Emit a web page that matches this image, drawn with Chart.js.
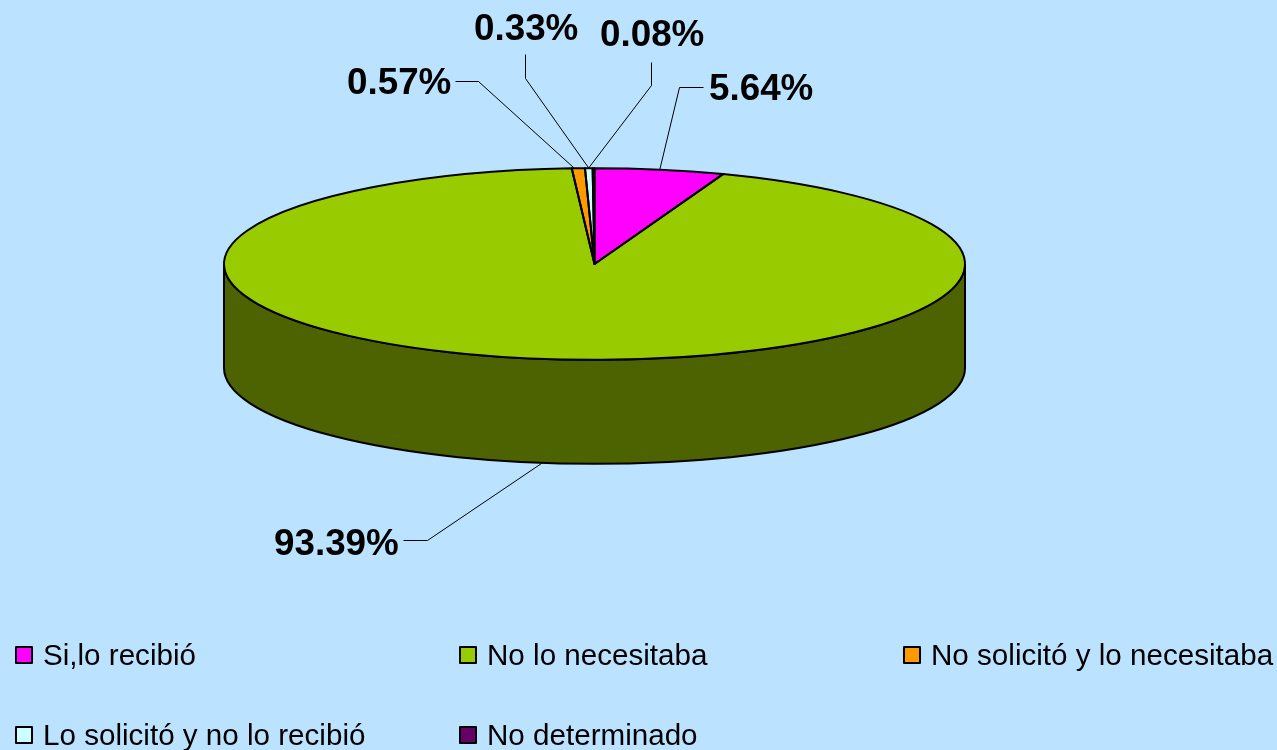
<!DOCTYPE html>
<html>
<head>
<meta charset="utf-8">
<style>html,body{margin:0;padding:0;background:#BBE3FF;overflow:hidden}canvas{display:block}</style>
<script src="https://cdn.jsdelivr.net/npm/chart.js@4/dist/chart.umd.min.js"></script>
</head>
<body>
<canvas id="c" width="1277" height="750"></canvas>
<script>
const categories = ['Si,lo recibió','No lo necesitaba','No solicitó y lo necesitaba','Lo solicitó y no lo recibió','No determinado'];
const values = [5.64,93.39,0.57,0.33,0.08];
const topColors = ['#FF00FF','#99CC00','#FF9900','#CCFFFF','#660066'];
const sideColors = ['#800080','#4D6200','#804C00','#668080','#330033'];
const valueLabels = ['5.64%','93.39%','0.57%','0.33%','0.08%'];

// layout of the squashed 3D look and of annotations
const TILT = 96/371, CY = 264, DEPTH = 104;
const labelLayout = [
  {x:709,y:100,path:[[703,87],[679,87]],wall:false,dx:0},
  {x:274,y:555,path:[[403,540],[427,540]],wall:true,dx:2},
  {x:347,y:94,path:[[455,81],[478,81]],wall:false,dx:-4},
  {x:474,y:40,path:[[525,54],[525,78]],wall:false,dx:0},
  {x:600,y:46,path:[[651,62],[651,85]],wall:false,dx:-5}
];
const legendCols = [15,459,903], legendRows = [664,744];

function arcs(chart){ return chart.getDatasetMeta(0).data; }
const pie3d = {
  id:'pie3d',
  beforeDatasetsDraw(chart){
    const ctx = chart.ctx;
    arcs(chart).forEach((a,i)=>{
      const p = a.getProps(['x','y','startAngle','endAngle','outerRadius'],true);
      const s = Math.max(p.startAngle,0), e = Math.min(p.endAngle,Math.PI);
      if(e<=s) return;
      const ry = p.outerRadius*TILT;
      ctx.beginPath();
      ctx.ellipse(p.x,CY,p.outerRadius,ry,0,s,e);
      ctx.ellipse(p.x,CY+DEPTH,p.outerRadius,ry,0,e,s,true);
      ctx.closePath();
      ctx.fillStyle = sideColors[i];
      ctx.fill();
      ctx.lineWidth = 2; ctx.strokeStyle = '#000';
      ctx.stroke();
    });
    const a0 = arcs(chart)[0];
    ctx.save();
    ctx.translate(0,CY);
    ctx.scale(1,TILT);
    ctx.translate(0,-a0.y);
  },
  afterDatasetsDraw(chart){
    const ctx = chart.ctx;
    ctx.restore();
    // slice outlines
    arcs(chart).forEach(a=>{
      const p = a.getProps(['x','y','startAngle','endAngle','outerRadius'],true);
      ctx.beginPath();
      ctx.moveTo(p.x,CY);
      ctx.ellipse(p.x,CY,p.outerRadius,p.outerRadius*TILT,0,p.startAngle,p.endAngle);
      ctx.closePath();
      ctx.lineWidth = 2; ctx.lineJoin='round'; ctx.strokeStyle = '#000';
      ctx.stroke();
    });
    // leader lines and value labels
    arcs(chart).forEach((a,i)=>{
      const p = a.getProps(['x','y','startAngle','endAngle','outerRadius'],true);
      const m = (p.startAngle+p.endAngle)/2, L = labelLayout[i];
      const ex = p.x+p.outerRadius*Math.cos(m)+L.dx;
      const ey = CY+p.outerRadius*TILT*Math.sin(m)+(L.wall?DEPTH:0);
      ctx.beginPath();
      ctx.moveTo(L.path[0][0]+.5,L.path[0][1]+.5);
      ctx.lineTo(L.path[1][0]+.5,L.path[1][1]+.5);
      ctx.lineTo(ex,ey);
      ctx.lineWidth = 1; ctx.strokeStyle = '#000'; ctx.stroke();
      ctx.font = 'bold 36.8px "Liberation Sans", Arial, sans-serif';
      ctx.fillStyle = '#000'; ctx.textAlign='left'; ctx.textBaseline='alphabetic';
      ctx.fillText(valueLabels[i],L.x,L.y);
    });
    // legend
    ctx.font = '29.6px "Liberation Sans", Arial, sans-serif';
    categories.forEach((c,i)=>{
      const x = legendCols[i%3], y = legendRows[Math.floor(i/3)];
      ctx.fillStyle = topColors[i];
      ctx.fillRect(x+1,y-17,16,16);
      ctx.lineWidth = 2; ctx.strokeStyle='#000';
      ctx.strokeRect(x+1,y-17,16,16);
      ctx.fillStyle = '#000';
      ctx.fillText(c,x+28,y+1);
    });
  }
};

new Chart(document.getElementById('c'),{
  type:'pie',
  data:{labels:categories,datasets:[{data:values,backgroundColor:topColors,borderWidth:0}]},
  options:{
    responsive:false,animation:false,
    layout:{padding:{left:224,right:312,top:4,bottom:4}},
    plugins:{legend:{display:false},tooltip:{enabled:false}}
  },
  plugins:[pie3d]
});
</script>
</body>
</html>
